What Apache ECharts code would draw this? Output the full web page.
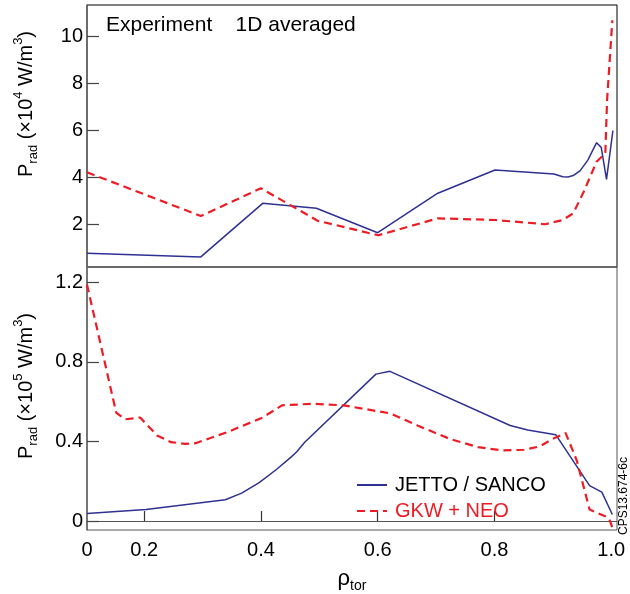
<!DOCTYPE html>
<html><head><meta charset="utf-8">
<script src="https://cdn.jsdelivr.net/npm/echarts@6/dist/echarts.min.js"></script>
<style>html,body{margin:0;padding:0;background:#fff}#c{width:630px;height:594px}</style>
</head><body><div id="c"></div>
<script>
// ---- data ----
const X_MIN = 0.102, X_MAX = 1.01;
const xTickValues = [0.2, 0.4, 0.6, 0.8];
const xLabelValues = [0.102, 0.2, 0.4, 0.6, 0.8, 1.0];
const yTopTicks = [2, 4, 6, 8, 10];
const yBotTicks = [0, 0.4, 0.8, 1.2];

const jettoTopRho = [0.102, 0.297, 0.403, 0.495, 0.600, 0.703, 0.801, 0.902, 0.917, 0.926, 0.935, 0.947, 0.960, 0.975, 0.983, 0.992, 1.003];
const jettoTopP   = [0.78, 0.63, 2.91, 2.70, 1.66, 3.34, 4.33, 4.16, 4.04, 4.03, 4.09, 4.30, 4.75, 5.49, 5.29, 3.93, 6.00];
const gkwTopRho   = [0.102, 0.297, 0.400, 0.497, 0.601, 0.703, 0.802, 0.887, 0.917, 0.935, 0.953, 0.975, 0.990, 0.993, 1.002];
const gkwTopP     = [4.23, 2.37, 3.55, 2.17, 1.55, 2.27, 2.20, 2.02, 2.20, 2.48, 3.40, 4.68, 5.04, 7.30, 10.7];

const jettoBotRho = [0.102, 0.203, 0.339, 0.367, 0.397, 0.427, 0.451, 0.461, 0.475, 0.597, 0.621, 0.827, 0.857, 0.905, 0.963, 0.984, 1.002];
const jettoBotP   = [0.038, 0.058, 0.107, 0.140, 0.193, 0.260, 0.320, 0.347, 0.396, 0.738, 0.752, 0.480, 0.457, 0.434, 0.178, 0.145, 0.033];
const gkwBotRho   = [0.102, 0.152, 0.167, 0.193, 0.222, 0.246, 0.270, 0.288, 0.342, 0.403, 0.436, 0.488, 0.542, 0.621, 0.669, 0.724, 0.772, 0.814, 0.851, 0.878, 0.899, 0.922, 0.941, 0.963, 0.996, 1.003];
const gkwBotP     = [1.188, 0.545, 0.511, 0.520, 0.430, 0.396, 0.388, 0.391, 0.446, 0.520, 0.581, 0.589, 0.581, 0.541, 0.479, 0.412, 0.371, 0.355, 0.358, 0.375, 0.412, 0.442, 0.305, 0.058, 0.016, -0.040];

const seriesNames = ['JETTO / SANCO', 'GKW + NEO'];
const panelTitle = 'Experiment    1D averaged';
const stampText = 'CPS13.674-6c';

// ---- chart ----
const FONT = '"Liberation Sans", Arial, Helvetica, sans-serif';
const BLUE = '#2e3192';
const RED = '#ed1c24';
function pairs(xs, ys) { return xs.map((x, i) => [x, ys[i]]); }

const chart = echarts.init(document.getElementById('c'), null, {renderer: 'canvas'});

const yLabel = {fontSize: 20, color: '#000', margin: 4, fontFamily: FONT};
const richTitle = {
  p: {fontSize: 20, fontFamily: FONT, color: '#000', lineHeight: 28, verticalAlign: 'middle'},
  s: {fontSize: 13, fontFamily: FONT, color: '#000', lineHeight: 12, verticalAlign: 'bottom'},
  u: {fontSize: 13, fontFamily: FONT, color: '#000', lineHeight: 12, verticalAlign: 'top'}
};

const option = {
  animation: false,
  textStyle: {fontFamily: FONT},
  title: {text: panelTitle, left: 101, top: 10, textStyle: {fontSize: 21, fontWeight: 'normal', color: '#000', fontFamily: FONT}},
  legend: {
    orient: 'vertical', left: 351, top: 470, itemWidth: 30, itemHeight: 12, itemGap: 6,
    itemStyle: {opacity: 0},
    textStyle: {fontSize: 20, fontFamily: FONT, padding: [0, 0, 0, 3]},
    data: [
      {name: seriesNames[0], textStyle: {color: '#000'}},
      {name: seriesNames[1], textStyle: {color: RED}}
    ]
  },
  grid: [
    {left: 87, right: 13, top: 5, height: 262, show: true, borderColor: '#000', borderWidth: 1},
    {left: 87, right: 13, top: 267, bottom: 60, show: true, borderColor: '#555', borderWidth: 1}
  ],
  xAxis: [
    {gridIndex: 0, type: 'value', min: X_MIN, max: X_MAX, axisLine: {show: false}, axisTick: {show: false}, axisLabel: {show: false}, splitLine: {show: false}},
    {gridIndex: 1, type: 'value', min: X_MIN, max: X_MAX,
      axisLine: {show: true, lineStyle: {color: '#555', width: 1}},
      axisTick: {show: true, inside: true, length: 10, customValues: xTickValues, lineStyle: {color: '#333', width: 1.2}},
      axisLabel: {customValues: xLabelValues, formatter: v => (v < 0.15 ? '0' : v.toFixed(1)), fontSize: 20, color: '#000', margin: 10, fontFamily: FONT, showMinLabel: true, showMaxLabel: true},
      splitLine: {show: false},
      name: '{a|ρ}{s|tor}', nameLocation: 'middle', nameGap: 35,
      nameTextStyle: {rich: {
        a: {fontSize: 22, fontFamily: FONT, color: '#000', lineHeight: 28, verticalAlign: 'middle'},
        s: {fontSize: 14, fontFamily: FONT, color: '#000', lineHeight: 10, verticalAlign: 'bottom'}
      }}
    }
  ],
  yAxis: [
    {gridIndex: 0, type: 'value', min: 0.2, max: 11.35,
      axisLine: {show: true, lineStyle: {color: '#666', width: 1.5}},
      axisTick: {show: true, inside: true, length: 12, customValues: yTopTicks, lineStyle: {color: '#444', width: 1.2}},
      axisLabel: Object.assign({customValues: yTopTicks}, yLabel),
      splitLine: {show: false}},
    {gridIndex: 1, type: 'value', min: -0.045, max: 1.276,
      axisLine: {show: true, lineStyle: {color: '#666', width: 1.5}},
      axisTick: {show: true, inside: true, length: 12, customValues: yBotTicks, lineStyle: {color: '#444', width: 1.2}},
      axisLabel: Object.assign({customValues: yBotTicks, formatter: v => (v === 0 ? '0' : v.toFixed(1))}, yLabel),
      splitLine: {show: false}}
  ],
  series: [
    {name: seriesNames[0], type: 'line', xAxisIndex: 1, yAxisIndex: 1, data: pairs(jettoBotRho, jettoBotP), showSymbol: false, symbol: 'none', lineStyle: {color: BLUE, width: 1.5}, itemStyle: {color: BLUE}},
    {name: seriesNames[1], type: 'line', xAxisIndex: 1, yAxisIndex: 1, data: pairs(gkwBotRho, gkwBotP), showSymbol: false, symbol: 'none', lineStyle: {color: RED, width: 2.2, type: [8, 5]}, itemStyle: {color: RED}},
    {name: seriesNames[0], type: 'line', xAxisIndex: 0, yAxisIndex: 0, data: pairs(jettoTopRho, jettoTopP), showSymbol: false, symbol: 'none', lineStyle: {color: BLUE, width: 1.5}, itemStyle: {color: BLUE}},
    {name: seriesNames[1], type: 'line', xAxisIndex: 0, yAxisIndex: 0, data: pairs(gkwTopRho, gkwTopP), showSymbol: false, symbol: 'none', lineStyle: {color: RED, width: 2.2, type: [8, 5]}, itemStyle: {color: RED}}
  ],
  graphic: [
    {type: 'text', x: 26, y: 104, rotation: Math.PI / 2,
      style: {text: '{p|P}{s|rad}{p| (×10}{u|4}{p| W/m}{u|3}{p|)}', rich: richTitle, align: 'center', verticalAlign: 'middle'}},
    {type: 'text', x: 26, y: 386, rotation: Math.PI / 2,
      style: {text: '{p|P}{s|rad}{p| (×10}{u|5}{p| W/m}{u|3}{p|)}', rich: richTitle, align: 'center', verticalAlign: 'middle'}},
    {type: 'text', x: 624, y: 496, rotation: Math.PI / 2,
      style: {text: stampText, fontSize: 12, fontFamily: FONT, fill: '#000', align: 'center', verticalAlign: 'middle'}}
  ]
};
chart.setOption(option);
</script>
</body></html>
